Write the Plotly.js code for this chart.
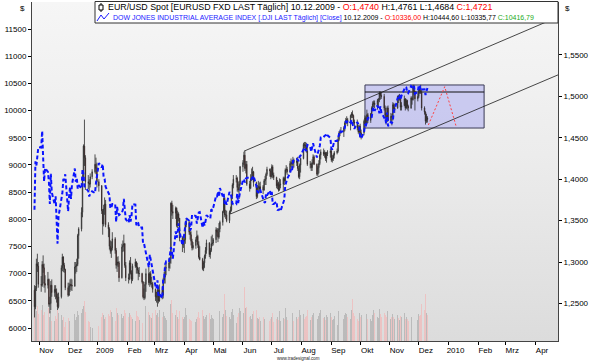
<!DOCTYPE html>
<html>
<head>
<meta charset="utf-8">
<script src="https://cdn.plot.ly/plotly-3.0.1.min.js"></script>
<style>
  html, body { margin:0; padding:0; background:#ffffff; }
  #wrap { position:relative; width:595px; height:361px; overflow:hidden; }
  #bg { position:absolute; left:32px; top:2px; width:526px; height:339px;
        background: linear-gradient(to bottom, #f6f6f6 0%, #ececec 45%, #dcdcdc 100%); }
  #chart { position:absolute; left:0; top:0; width:595px; height:361px; }
</style>
</head>
<body>
<div id="wrap"><div id="bg"></div><div id="chart"></div></div>
<script>
// ---- trading days ----
const dates = [
'2008-10-27','2008-10-28','2008-10-29','2008-10-30','2008-10-31',
'2008-11-03','2008-11-04','2008-11-05','2008-11-06','2008-11-07','2008-11-10','2008-11-11','2008-11-12','2008-11-13','2008-11-14','2008-11-17','2008-11-18','2008-11-19','2008-11-20','2008-11-21','2008-11-24','2008-11-25','2008-11-26','2008-11-27','2008-11-28',
'2008-12-01','2008-12-02','2008-12-03','2008-12-04','2008-12-05','2008-12-08','2008-12-09','2008-12-10','2008-12-11','2008-12-12','2008-12-15','2008-12-16','2008-12-17','2008-12-18','2008-12-19','2008-12-22','2008-12-23','2008-12-24','2008-12-26','2008-12-29','2008-12-30','2008-12-31',
'2009-01-02','2009-01-05','2009-01-06','2009-01-07','2009-01-08','2009-01-09','2009-01-12','2009-01-13','2009-01-14','2009-01-15','2009-01-16','2009-01-19','2009-01-20','2009-01-21','2009-01-22','2009-01-23','2009-01-26','2009-01-27','2009-01-28','2009-01-29','2009-01-30',
'2009-02-02','2009-02-03','2009-02-04','2009-02-05','2009-02-06','2009-02-09','2009-02-10','2009-02-11','2009-02-12','2009-02-13','2009-02-16','2009-02-17','2009-02-18','2009-02-19','2009-02-20','2009-02-23','2009-02-24','2009-02-25','2009-02-26','2009-02-27',
'2009-03-02','2009-03-03','2009-03-04','2009-03-05','2009-03-06','2009-03-09','2009-03-10','2009-03-11','2009-03-12','2009-03-13','2009-03-16','2009-03-17','2009-03-18','2009-03-19','2009-03-20','2009-03-23','2009-03-24','2009-03-25','2009-03-26','2009-03-27','2009-03-30','2009-03-31',
'2009-04-01','2009-04-02','2009-04-03','2009-04-06','2009-04-07','2009-04-08','2009-04-09','2009-04-10','2009-04-13','2009-04-14','2009-04-15','2009-04-16','2009-04-17','2009-04-20','2009-04-21','2009-04-22','2009-04-23','2009-04-24','2009-04-27','2009-04-28','2009-04-29','2009-04-30',
'2009-05-01','2009-05-04','2009-05-05','2009-05-06','2009-05-07','2009-05-08','2009-05-11','2009-05-12','2009-05-13','2009-05-14','2009-05-15','2009-05-18','2009-05-19','2009-05-20','2009-05-21','2009-05-22','2009-05-25','2009-05-26','2009-05-27','2009-05-28','2009-05-29',
'2009-06-01','2009-06-02','2009-06-03','2009-06-04','2009-06-05','2009-06-08','2009-06-09','2009-06-10','2009-06-11','2009-06-12','2009-06-15','2009-06-16','2009-06-17','2009-06-18','2009-06-19','2009-06-22','2009-06-23','2009-06-24','2009-06-25','2009-06-26','2009-06-29','2009-06-30',
'2009-07-01','2009-07-02','2009-07-03','2009-07-06','2009-07-07','2009-07-08','2009-07-09','2009-07-10','2009-07-13','2009-07-14','2009-07-15','2009-07-16','2009-07-17','2009-07-20','2009-07-21','2009-07-22','2009-07-23','2009-07-24','2009-07-27','2009-07-28','2009-07-29','2009-07-30','2009-07-31',
'2009-08-03','2009-08-04','2009-08-05','2009-08-06','2009-08-07','2009-08-10','2009-08-11','2009-08-12','2009-08-13','2009-08-14','2009-08-17','2009-08-18','2009-08-19','2009-08-20','2009-08-21','2009-08-24','2009-08-25','2009-08-26','2009-08-27','2009-08-28','2009-08-31',
'2009-09-01','2009-09-02','2009-09-03','2009-09-04','2009-09-07','2009-09-08','2009-09-09','2009-09-10','2009-09-11','2009-09-14','2009-09-15','2009-09-16','2009-09-17','2009-09-18','2009-09-21','2009-09-22','2009-09-23','2009-09-24','2009-09-25','2009-09-28','2009-09-29','2009-09-30',
'2009-10-01','2009-10-02','2009-10-05','2009-10-06','2009-10-07','2009-10-08','2009-10-09','2009-10-12','2009-10-13','2009-10-14','2009-10-15','2009-10-16','2009-10-19','2009-10-20','2009-10-21','2009-10-22','2009-10-23','2009-10-26','2009-10-27','2009-10-28','2009-10-29','2009-10-30',
'2009-11-02','2009-11-03','2009-11-04','2009-11-05','2009-11-06','2009-11-09','2009-11-10','2009-11-11','2009-11-12','2009-11-13','2009-11-16','2009-11-17','2009-11-18','2009-11-19','2009-11-20','2009-11-23','2009-11-24','2009-11-25','2009-11-26','2009-11-27','2009-11-30',
'2009-12-01','2009-12-02','2009-12-03','2009-12-04','2009-12-07','2009-12-08','2009-12-09','2009-12-10'
];

// ---- EUR/USD daily OHLC ----
const eurOpen = [
1.2660,1.2460,1.2680,1.2980,1.2950,
1.2730,1.2720,1.2970,1.2930,1.2740,1.2720,1.2790,1.2490,1.2500,1.2720,1.2630,1.2670,1.2640,1.2570,1.2460,1.2580,1.2930,1.3060,1.2960,1.2910,
1.2690,1.2600,1.2710,1.2730,1.2720,1.2710,1.2940,1.2950,1.2970,1.3320,1.3400,1.3600,1.4010,1.4400,1.4260,1.3970,1.3950,1.3940,1.4030,1.4090,1.4180,1.4130,
1.3970,1.3920,1.3620,1.3460,1.3640,1.3700,1.3450,1.3400,1.3190,1.3130,1.3170,1.3280,1.3140,1.2960,1.3000,1.2990,1.2810,1.3180,1.3200,1.3220,1.2960,
1.2810,1.2800,1.2990,1.2870,1.2790,1.2950,1.3000,1.2940,1.2900,1.2860,1.2860,1.2760,1.2580,1.2570,1.2730,1.2860,1.2750,1.2860,1.2740,1.2740,
1.2670,1.2580,1.2580,1.2660,1.2530,1.2660,1.2600,1.2780,1.2820,1.2930,1.2930,1.2990,1.3040,1.3710,1.3610,1.3590,1.3650,1.3440,1.3580,1.3530,1.3290,1.3210,
1.3250,1.3270,1.3450,1.3480,1.3360,1.3330,1.3250,1.3170,1.3200,1.3270,1.3310,1.3210,1.3060,1.3030,1.2920,1.2990,1.3070,1.3140,1.3230,1.3090,1.3140,1.3220,
1.3230,1.3270,1.3390,1.3360,1.3300,1.3400,1.3480,1.3610,1.3770,1.3570,1.3570,1.3500,1.3600,1.3630,1.3800,1.3930,1.4000,1.4010,1.3900,1.3870,1.3940,
1.4150,1.4200,1.4290,1.4130,1.4180,1.3940,1.3890,1.4000,1.4020,1.4090,1.3960,1.3790,1.3900,1.3910,1.3880,1.3910,1.3870,1.3980,1.4000,1.4060,1.4120,1.4100,
1.4030,1.4150,1.4050,1.4020,1.3920,1.3950,1.3870,1.3930,1.3940,1.4010,1.3980,1.4110,1.4120,1.4090,1.4190,1.4200,1.4180,1.4230,1.4200,1.4220,1.4130,1.4030,1.4170,
1.4250,1.4420,1.4410,1.4400,1.4340,1.4180,1.4180,1.4140,1.4200,1.4270,1.4180,1.4060,1.4140,1.4190,1.4290,1.4330,1.4300,1.4320,1.4250,1.4310,1.4320,
1.4340,1.4230,1.4250,1.4290,1.4320,1.4340,1.4480,1.4560,1.4570,1.4570,1.4620,1.4680,1.4710,1.4720,1.4680,1.4770,1.4790,1.4770,1.4690,1.4680,1.4620,1.4570,
1.4640,1.4530,1.4560,1.4700,1.4740,1.4680,1.4780,1.4710,1.4790,1.4860,1.4910,1.4920,1.4900,1.4950,1.4960,1.5040,1.5010,1.5000,1.4860,1.4770,1.4700,1.4860,
1.4710,1.4760,1.4750,1.4900,1.4850,1.4860,1.5000,1.4970,1.4990,1.4870,1.4890,1.4970,1.4860,1.4950,1.4880,1.4860,1.4980,1.4960,1.5110,1.5060,1.4970,
1.5000,1.5090,1.5070,1.5050,1.4860,1.4810,1.4700,1.4740
];
const eurHigh = [
1.2720,1.2710,1.3040,1.3100,1.3000,
1.2830,1.3010,1.3080,1.2980,1.2840,1.2880,1.2800,1.2580,1.2770,1.2790,1.2720,1.2720,1.2680,1.2620,1.2630,1.2960,1.3100,1.3070,1.2990,1.2920,
1.2750,1.2750,1.2790,1.2800,1.2790,1.3000,1.3000,1.3040,1.3340,1.3420,1.3660,1.4060,1.4420,1.4720,1.4290,1.4050,1.4000,1.4070,1.4120,1.4300,1.4260,1.4200,
1.4000,1.3930,1.3640,1.3690,1.3780,1.3750,1.3480,1.3420,1.3260,1.3250,1.3360,1.3300,1.3170,1.3060,1.3070,1.3010,1.3220,1.3260,1.3330,1.3230,1.3000,
1.2860,1.3020,1.3060,1.2900,1.2980,1.3040,1.3010,1.2990,1.2930,1.2940,1.2870,1.2770,1.2680,1.2760,1.2920,1.2940,1.2880,1.2890,1.2820,1.2760,
1.2680,1.2640,1.2710,1.2700,1.2730,1.2700,1.2810,1.2880,1.2960,1.2990,1.3040,1.3060,1.3720,1.3740,1.3690,1.3670,1.3660,1.3620,1.3600,1.3530,1.3310,1.3320,
1.3300,1.3480,1.3530,1.3500,1.3410,1.3370,1.3280,1.3240,1.3300,1.3380,1.3330,1.3250,1.3190,1.3050,1.3010,1.3090,1.3180,1.3270,1.3240,1.3170,1.3310,1.3330,
1.3290,1.3420,1.3410,1.3410,1.3470,1.3500,1.3620,1.3770,1.3780,1.3630,1.3620,1.3620,1.3670,1.3810,1.3950,1.4050,1.4050,1.4030,1.3970,1.3980,1.4160,
1.4230,1.4330,1.4340,1.4220,1.4220,1.3980,1.4060,1.4130,1.4150,1.4100,1.3970,1.3930,1.3980,1.3960,1.3970,1.3930,1.4000,1.4040,1.4080,1.4150,1.4130,1.4130,
1.4180,1.4170,1.4080,1.4030,1.3990,1.3970,1.4010,1.4000,1.4030,1.4030,1.4130,1.4170,1.4150,1.4220,1.4250,1.4230,1.4270,1.4250,1.4260,1.4270,1.4160,1.4190,1.4260,
1.4440,1.4450,1.4450,1.4440,1.4400,1.4220,1.4200,1.4240,1.4300,1.4290,1.4190,1.4160,1.4230,1.4310,1.4360,1.4370,1.4350,1.4330,1.4330,1.4350,1.4370,
1.4370,1.4290,1.4310,1.4340,1.4370,1.4510,1.4580,1.4600,1.4630,1.4640,1.4700,1.4740,1.4760,1.4740,1.4780,1.4810,1.4830,1.4780,1.4720,1.4720,1.4660,1.4650,
1.4670,1.4600,1.4720,1.4770,1.4760,1.4840,1.4800,1.4800,1.4880,1.4940,1.4950,1.4950,1.4970,1.4980,1.5060,1.5060,1.5050,1.5030,1.4890,1.4800,1.4880,1.4890,
1.4800,1.4790,1.4930,1.4920,1.4910,1.5010,1.5020,1.5030,1.5000,1.4930,1.5010,1.4980,1.4970,1.4960,1.4900,1.5000,1.5000,1.5140,1.5140,1.5070,1.5040,
1.5110,1.5110,1.5140,1.5080,1.4880,1.4820,1.4790,1.4761
];
const eurLow = [
1.2330,1.2430,1.2650,1.2880,1.2690,
1.2640,1.2700,1.2870,1.2690,1.2630,1.2680,1.2460,1.2380,1.2420,1.2580,1.2580,1.2550,1.2510,1.2420,1.2440,1.2560,1.2890,1.2880,1.2870,1.2660,
1.2580,1.2590,1.2640,1.2660,1.2650,1.2700,1.2860,1.2880,1.2950,1.3040,1.3370,1.3540,1.3980,1.4160,1.3870,1.3880,1.3860,1.3900,1.4000,1.4070,1.4060,1.3900,
1.3850,1.3580,1.3330,1.3430,1.3570,1.3420,1.3300,1.3150,1.3100,1.3050,1.3140,1.3100,1.2920,1.2880,1.2940,1.2760,1.2800,1.3120,1.3130,1.2930,1.2770,
1.2740,1.2780,1.2850,1.2740,1.2770,1.2930,1.2860,1.2860,1.2780,1.2820,1.2740,1.2560,1.2540,1.2550,1.2640,1.2720,1.2700,1.2720,1.2690,1.2630,
1.2530,1.2510,1.2460,1.2500,1.2520,1.2550,1.2560,1.2740,1.2740,1.2840,1.2890,1.2920,1.2980,1.3560,1.3520,1.3520,1.3420,1.3410,1.3490,1.3250,1.3120,1.3170,
1.3110,1.3220,1.3420,1.3330,1.3270,1.3200,1.3140,1.3150,1.3160,1.3240,1.3170,1.3040,1.3020,1.2900,1.2890,1.2930,1.3040,1.3100,1.3060,1.3040,1.3120,1.3190,
1.3200,1.3230,1.3310,1.3240,1.3280,1.3360,1.3440,1.3590,1.3540,1.3520,1.3480,1.3470,1.3580,1.3610,1.3760,1.3890,1.3960,1.3850,1.3840,1.3760,1.3920,
1.4090,1.4170,1.4100,1.4070,1.3920,1.3850,1.3880,1.3980,1.3990,1.3910,1.3760,1.3770,1.3840,1.3830,1.3860,1.3820,1.3860,1.3930,1.3930,1.4040,1.4030,1.4000,
1.4020,1.4010,1.3990,1.3890,1.3880,1.3850,1.3860,1.3890,1.3860,1.3930,1.3960,1.4070,1.4050,1.4080,1.4150,1.4130,1.4130,1.4140,1.4160,1.4100,1.4010,1.4000,1.4080,
1.4240,1.4370,1.4340,1.4320,1.4160,1.4130,1.4100,1.4100,1.4180,1.4170,1.4040,1.4040,1.4070,1.4170,1.4240,1.4280,1.4260,1.4220,1.4200,1.4280,1.4260,
1.4210,1.4200,1.4220,1.4250,1.4300,1.4320,1.4460,1.4520,1.4550,1.4510,1.4580,1.4650,1.4670,1.4640,1.4590,1.4740,1.4740,1.4660,1.4630,1.4590,1.4550,1.4540,
1.4500,1.4480,1.4530,1.4660,1.4650,1.4670,1.4680,1.4680,1.4770,1.4840,1.4870,1.4860,1.4840,1.4860,1.4930,1.4960,1.4970,1.4830,1.4740,1.4660,1.4690,1.4700,
1.4680,1.4650,1.4710,1.4810,1.4800,1.4850,1.4920,1.4950,1.4830,1.4830,1.4880,1.4830,1.4850,1.4840,1.4820,1.4850,1.4900,1.4950,1.5020,1.4830,1.4940,
1.4980,1.5030,1.5030,1.4830,1.4780,1.4660,1.4680,1.4684
];
const eurClose = [
1.2460,1.2680,1.2980,1.2950,1.2730,
1.2720,1.2970,1.2930,1.2740,1.2720,1.2790,1.2490,1.2500,1.2720,1.2630,1.2670,1.2640,1.2570,1.2460,1.2580,1.2930,1.3060,1.2960,1.2910,1.2690,
1.2600,1.2710,1.2730,1.2720,1.2710,1.2940,1.2950,1.2970,1.3320,1.3400,1.3600,1.4010,1.4400,1.4260,1.3970,1.3950,1.3940,1.4030,1.4090,1.4180,1.4130,1.3970,
1.3920,1.3620,1.3460,1.3640,1.3700,1.3450,1.3400,1.3190,1.3130,1.3170,1.3280,1.3140,1.2960,1.3000,1.2990,1.2810,1.3180,1.3200,1.3220,1.2960,1.2810,
1.2800,1.2990,1.2870,1.2790,1.2950,1.3000,1.2940,1.2900,1.2860,1.2860,1.2760,1.2580,1.2570,1.2730,1.2860,1.2750,1.2860,1.2740,1.2740,1.2670,
1.2580,1.2580,1.2660,1.2530,1.2660,1.2600,1.2780,1.2820,1.2930,1.2930,1.2990,1.3040,1.3710,1.3610,1.3590,1.3650,1.3440,1.3580,1.3530,1.3290,1.3210,1.3250,
1.3270,1.3450,1.3480,1.3360,1.3330,1.3250,1.3170,1.3200,1.3270,1.3310,1.3210,1.3060,1.3030,1.2920,1.2990,1.3070,1.3140,1.3230,1.3090,1.3140,1.3220,1.3230,
1.3270,1.3390,1.3360,1.3300,1.3400,1.3480,1.3610,1.3770,1.3570,1.3570,1.3500,1.3600,1.3630,1.3800,1.3930,1.4000,1.4010,1.3900,1.3870,1.3940,1.4150,
1.4200,1.4290,1.4130,1.4180,1.3940,1.3890,1.4000,1.4020,1.4090,1.3960,1.3790,1.3900,1.3910,1.3880,1.3910,1.3870,1.3980,1.4000,1.4060,1.4120,1.4100,1.4030,
1.4150,1.4050,1.4020,1.3920,1.3950,1.3870,1.3930,1.3940,1.4010,1.3980,1.4110,1.4120,1.4090,1.4190,1.4200,1.4180,1.4230,1.4200,1.4220,1.4130,1.4030,1.4170,1.4250,
1.4420,1.4410,1.4400,1.4340,1.4180,1.4180,1.4140,1.4200,1.4270,1.4180,1.4060,1.4140,1.4190,1.4290,1.4330,1.4300,1.4320,1.4250,1.4310,1.4320,1.4340,
1.4230,1.4250,1.4290,1.4320,1.4340,1.4480,1.4560,1.4570,1.4570,1.4620,1.4680,1.4710,1.4720,1.4680,1.4770,1.4790,1.4770,1.4690,1.4680,1.4620,1.4570,1.4640,
1.4530,1.4560,1.4700,1.4740,1.4680,1.4780,1.4710,1.4790,1.4860,1.4910,1.4920,1.4900,1.4950,1.4960,1.5040,1.5010,1.5000,1.4860,1.4770,1.4700,1.4860,1.4710,
1.4760,1.4750,1.4900,1.4850,1.4860,1.5000,1.4970,1.4990,1.4870,1.4890,1.4970,1.4860,1.4950,1.4880,1.4860,1.4980,1.4960,1.5110,1.5060,1.4970,1.5000,
1.5090,1.5070,1.5050,1.4860,1.4810,1.4700,1.4760,1.4721
];

// ---- Dow Jones daily close ----
const djiClose = [
8175,9065,8991,9180,9325,
9319,9625,9139,8696,8943,8870,8694,8283,8835,8497,8273,8425,7997,7552,8046,8443,8479,8726,8726,8829,
8149,8419,8592,8376,8635,8934,8691,8761,8565,8629,8564,8924,8824,8604,8579,8519,8419,8468,8515,8483,8668,8776,
9034,8953,9015,8769,8742,8599,8474,8448,8200,8212,8281,8281,7949,8228,8123,8077,8117,8175,8375,8149,8001,
7936,8078,7957,8063,8280,8270,7889,7939,7933,7850,7850,7553,7556,7466,7366,7115,7351,7270,7183,7063,
6764,6726,6876,6594,6627,6547,6926,6930,7170,7224,7216,7395,7486,7400,7278,7776,7660,7749,7924,7776,7522,7609,
7761,7978,8018,7975,7789,7837,8083,8083,8058,7920,8029,8125,8131,7842,7969,7886,7957,8076,8026,8016,8185,8168,
8212,8426,8410,8512,8409,8575,8419,8469,8284,8331,8268,8504,8474,8422,8293,8278,8278,8473,8300,8404,8500,
8721,8740,8676,8750,8764,8764,8763,8740,8771,8799,8613,8505,8497,8555,8540,8340,8323,8300,8472,8438,8529,8447,
8504,8280,8280,8324,8163,8179,8183,8146,8332,8359,8616,8711,8743,8848,8916,8881,9069,9093,9108,9096,9070,9154,9172,
9286,9320,9280,9256,9370,9337,9241,9362,9398,9321,9135,9218,9279,9350,9506,9509,9539,9543,9580,9544,9496,
9310,9280,9345,9441,9441,9497,9547,9627,9605,9626,9683,9792,9783,9820,9778,9829,9748,9707,9665,9789,9742,9712,
9509,9487,9599,9731,9725,9786,9864,9885,9871,10015,10062,9995,10092,10041,9949,10081,9972,9867,9882,9762,9962,9713,
9789,9772,9802,10005,10023,10227,10247,10291,10197,10270,10406,10437,10427,10333,10319,10451,10433,10464,10464,10310,10345,
10471,10453,10366,10389,10390,10286,10337,10417
];

// ---- volume (bottom histogram) ----
const volume = [
95,110,88,102,80,
92,105,78,86,70,64,98,72,88,60,58,74,66,90,84,76,62,70,40,55,
68,60,72,58,66,80,62,70,88,76,82,95,104,118,86,60,56,42,38,52,58,48,
45,70,84,78,66,72,80,74,92,86,70,60,98,82,76,88,80,68,74,90,84,
72,84,78,70,66,60,88,74,70,62,54,96,80,76,104,86,78,72,68,82,
90,76,84,72,92,70,86,74,68,62,70,66,108,120,84,76,92,70,66,88,72,64,
70,96,78,66,62,58,70,48,56,64,72,86,68,92,74,66,70,78,82,64,76,68,
64,82,70,74,96,88,72,80,140,90,74,70,66,86,94,78,52,72,82,96,88,
110,84,158,96,100,70,74,66,80,88,92,68,64,72,60,70,66,62,76,60,58,64,
70,82,56,66,72,62,88,60,68,64,96,70,62,74,66,72,84,60,70,66,72,90,76,
80,66,72,74,92,62,70,78,84,80,72,66,74,82,90,68,70,62,78,72,84,
70,62,66,74,48,88,78,72,66,64,76,84,80,70,66,90,124,82,74,66,60,84,
72,78,68,74,62,80,66,64,60,76,90,82,70,68,94,80,72,84,76,70,88,74,
66,72,80,70,64,76,68,62,74,70,82,66,70,64,58,72,66,84,56,70,62,
80,74,78,110,90,138,82,76
];

// ---- drawings (trend channel, projection, box) ----
const upperTrendDates = ['2009-06-02', '2010-04-25'];
const upperTrendLevels = [1.4338, 1.5960];
const lowerTrendDates = ['2009-05-19', '2010-04-25'];
const lowerTrendLevels = [1.3580, 1.5260];
const projDates = ['2009-12-11', '2009-12-28', '2010-01-09'];
const projLevels = [1.4655, 1.5117, 1.4634];
const boxDates = ['2009-10-06', '2010-02-07'];
const boxLevels = [1.4618, 1.5053, 1.5138];

// ---- axes ----
const monthTicks = ['2008-11-01','2008-12-01','2009-01-01','2009-02-01','2009-03-01','2009-04-01','2009-05-01','2009-06-01','2009-07-01','2009-08-01','2009-09-01','2009-10-01','2009-11-01','2009-12-01','2010-01-01','2010-02-01','2010-03-01','2010-04-01'];
const monthLabels = ['Nov','Dez','2009','Feb','Mrz','Apr','Mai','Jun','Jul','Aug','Sep','Okt','Nov','Dez','2010','Feb','Mrz','Apr'];
const djiTicks = [6000,6500,7000,7500,8000,8500,9000,9500,10000,10500,11000,11500];
const eurTicks = [1.25,1.30,1.35,1.40,1.45,1.50,1.55];
const xRange = ['2008-10-24 10:00', '2010-04-24 22:00'];
const djiRange = [5761, 11997];
const eurRange = [1.2046, 1.6140];
const volRange = [0, 1000];

const n = dates.length;
if ([eurOpen, eurHigh, eurLow, eurClose, djiClose, volume].some(a => a.length !== n)) {
  console.error('length mismatch', n, eurOpen.length, eurHigh.length, eurLow.length, eurClose.length, djiClose.length, volume.length);
}

const volColors = eurClose.map((c, i) => c >= eurOpen[i] ? 'rgba(175,175,175,0.75)' : 'rgba(240,185,185,0.75)');

const traces = [
  { type:'bar', x:dates, y:volume, yaxis:'y', marker:{color:volColors, line:{width:0}},
    width:86400000*0.9, hoverinfo:'skip' },
  { type:'candlestick', x:dates, open:eurOpen, high:eurHigh, low:eurLow, close:eurClose, yaxis:'y2',
    increasing:{line:{color:'#2a2a2a', width:0.8}, fillcolor:'#a8a8a8'},
    decreasing:{line:{color:'#2a2a2a', width:0.8}, fillcolor:'#c40000'},
    whiskerwidth:0, hoverinfo:'skip' },
  { type:'scatter', mode:'lines', x:upperTrendDates, y:upperTrendLevels, yaxis:'y2',
    line:{color:'#1a1a1a', width:0.8}, hoverinfo:'skip' },
  { type:'scatter', mode:'lines', x:lowerTrendDates, y:lowerTrendLevels, yaxis:'y2',
    line:{color:'#1a1a1a', width:0.8}, hoverinfo:'skip' },
  { type:'scatter', mode:'lines', x:projDates, y:projLevels, yaxis:'y2',
    line:{color:'#ff4040', width:1, dash:'2px,2px'}, hoverinfo:'skip' },
  { type:'scatter', mode:'lines', x:dates, y:djiClose, yaxis:'y3',
    line:{color:'#0a14ff', width:2, dash:'4px,2.5px'}, hoverinfo:'skip' }
];

const P = (px) => (px - 32) / 526;
const Q = (py) => (341 - py) / 339;

const shapes = [
  { type:'rect', xref:'x', yref:'y2', x0:boxDates[0], x1:boxDates[1], y0:boxLevels[0], y1:boxLevels[2],
    fillcolor:'rgba(150,150,240,0.42)', line:{color:'#3a3a55', width:1}, layer:'below' },
  { type:'line', xref:'x', yref:'y2', x0:boxDates[0], x1:boxDates[1], y0:boxLevels[1], y1:boxLevels[1],
    line:{color:'#111', width:1}, layer:'below' },
  // legend box
  { type:'rect', xref:'paper', yref:'paper', x0:P(95), x1:P(558), y0:Q(23), y1:Q(1.5),
    fillcolor:'#ffffff', line:{color:'#333', width:1}, layer:'above' },
  // candle icon
  { type:'line', xref:'paper', yref:'paper', x0:P(101), x1:P(101), y0:Q(12), y1:Q(3),
    line:{color:'#000', width:1}, layer:'above' },
  { type:'rect', xref:'paper', yref:'paper', x0:P(99), x1:P(103), y0:Q(10), y1:Q(5),
    fillcolor:'#fff', line:{color:'#000', width:1}, layer:'above' },
  // line icon
  { type:'path', xref:'paper', yref:'paper',
    path:'M '+P(97)+','+Q(21)+' L '+P(101)+','+Q(15)+' L '+P(104)+','+Q(19)+' L '+P(109)+','+Q(13),
    line:{color:'#1a1aff', width:1}, layer:'above' }
];

const FONT = 'Liberation Sans, Arial, sans-serif';
const legendLine1 = 'EUR/USD Spot [EURUSD FXD LAST Täglich] 10.12.2009 - <span style="color:#ff0000">O:1,4740</span> H:1,4761 L:1,4684 <span style="color:#ff0000">C:1,4721</span>';
const legendLine2 = '<span style="color:#1a1aff">DOW JONES INDUSTRIAL AVERAGE INDEX [.DJI LAST Täglich] [Close]</span> 10.12.2009 - <span style="color:#ff0000">O:10336,00</span> H:10444,60 L:10335,77 <span style="color:#1aaa1a">C:10416,79</span>';
const legendWidths = [385, 421];   // header line target widths (measured units)

const annotations = [
  { xref:'paper', yref:'paper', x:P(106), y:Q(7.5), xanchor:'left', yanchor:'middle', align:'left', showarrow:false,
    font:{family:FONT, size:8, color:'#000'}, text:legendLine1 },
  { xref:'paper', yref:'paper', x:P(111), y:Q(17.5), xanchor:'left', yanchor:'middle', align:'left', showarrow:false,
    font:{family:FONT, size:8, color:'#000'}, text:legendLine2 },
  { xref:'paper', yref:'paper', x:P(22), y:Q(8), xanchor:'center', yanchor:'middle', showarrow:false,
    font:{family:FONT, size:8, color:'#000'}, text:'$' },
  { xref:'paper', yref:'paper', x:P(567), y:Q(8), xanchor:'center', yanchor:'middle', showarrow:false,
    font:{family:FONT, size:8, color:'#000'}, text:'$' },
  { xref:'paper', yref:'paper', x:P(298), y:Q(358.5), xanchor:'center', yanchor:'middle', showarrow:false,
    font:{family:FONT, size:4.5, color:'#222'}, text:'www.tradesignal.com' }
];

const layout = {
  width:595, height:361,
  margin:{l:32, r:37, t:2, b:20, pad:0},
  paper_bgcolor:'rgba(0,0,0,0)', plot_bgcolor:'rgba(0,0,0,0)',
  showlegend:false, separators:',.', bargap:0,
  font:{family:FONT, size:8, color:'#000'},
  xaxis:{type:'date', range:xRange, tickvals:monthTicks, ticktext:monthLabels,
    ticks:'outside', ticklen:3, tickcolor:'#000', showline:true, linecolor:'#444', linewidth:1,
    showgrid:false, zeroline:false, rangeslider:{visible:false}, ticklabelshift:7, ticklabelstandoff:-2,
    tickfont:{family:FONT, size:8, color:'#000'}, fixedrange:true},
  yaxis:{range:volRange, visible:false, showgrid:false, zeroline:false, fixedrange:true},
  yaxis2:{overlaying:'y', side:'right', range:eurRange, tickvals:eurTicks, tickformat:'.4f',
    ticks:'outside', ticklen:3, tickcolor:'#000', showline:true, linecolor:'#444', linewidth:1,
    showgrid:false, zeroline:false, tickfont:{family:FONT, size:8, color:'#000'}, fixedrange:true},
  yaxis3:{overlaying:'y', side:'left', range:djiRange, tickvals:djiTicks, tickformat:'d',
    ticks:'outside', ticklen:3, tickcolor:'#000', showline:true, linecolor:'#444', linewidth:1,
    showgrid:false, zeroline:false, tickfont:{family:FONT, size:8, color:'#000'}, fixedrange:true},
  shapes:shapes, annotations:annotations
};

function measure(gd, i) {
  const t = gd.querySelector('.annotation[data-index="' + i + '"] text.annotation-text');
  if (!t) return null;
  const w = t.getBBox().width;
  return w > 0 ? w : null;
}

// scale the two header font sizes so that each line spans its target width
function fitHeader(gd, pass) {
  const upd = {};
  [0, 1].forEach(i => {
    const w = measure(gd, i);
    if (w) {
      const cur = gd.layout.annotations[i].font.size;
      upd['annotations[' + i + '].font.size'] = Math.round(cur * legendWidths[i] / w * 100) / 100;
    }
  });
  if (Object.keys(upd).length === 0) return Promise.resolve(gd);
  return Plotly.relayout(gd, upd).then(g => pass > 1 ? fitHeader(g, pass - 1) : g);
}

Plotly.newPlot('chart', traces, layout, {staticPlot:true, displayModeBar:false})
  .then(gd => fitHeader(gd, 2));
</script>
</body>
</html>
